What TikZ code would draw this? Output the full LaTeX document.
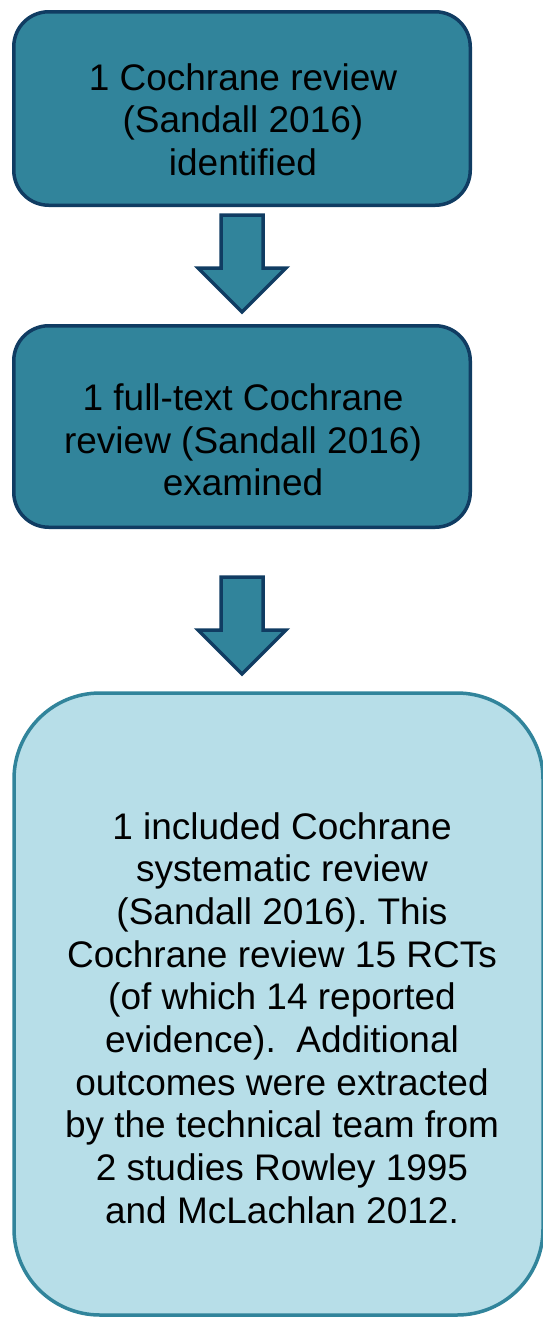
\documentclass[tikz,border=0pt]{standalone}
\usepackage{fontspec}
\setmainfont{Liberation Sans}
\usetikzlibrary{calc}
\definecolor{tealfill}{RGB}{49,132,155}
\definecolor{navyline}{RGB}{16,60,98}
\definecolor{paleblue}{RGB}{183,222,232}
\frenchspacing
\tikzset{
  stepbox/.style={draw=navyline, fill=tealfill, line width=3.5pt, rounded corners=35pt,
    minimum width=456.5pt},
  bigbox/.style={draw=tealfill, fill=paleblue, line width=3.5pt, rounded corners=86pt,
    minimum width=529pt, minimum height=622pt},
  boxtext/.style={align=center, font=\fontsize{37}{42.7}\selectfont},
  blockarrow/.style={draw=navyline, fill=tealfill, line width=3.5pt, line join=miter}
}
\newcommand{\downblock}[1]{%
  \draw[blockarrow] ([shift={(-21,-48)}]#1) -- ([shift={(21,-48)}]#1)
    -- ([shift={(21,5)}]#1) -- ([shift={(44,5)}]#1) -- ([shift={(0,49)}]#1)
    -- ([shift={(-44,5)}]#1) -- ([shift={(-21,5)}]#1) -- cycle;}

\begin{document}
\begin{tikzpicture}[x=1pt,y=-1pt]
  \useasboundingbox (0,0) rectangle (542,1317);

  % the three boxes
  \node[stepbox, minimum height=193.5pt] (ident) at (242,108.5) {};
  \node[stepbox, minimum height=201.5pt] (exam) at (242,426.5) {};
  \node[bigbox] (incl) at (278.5,1004) {};

  % their texts
  \node[boxtext] (identtxt) at (243,119.5) {1 Cochrane review\\(Sandall 2016)\\identified};
  \node[boxtext] (examtxt) at (243,440) {1 full-text Cochrane\\review (Sandall 2016)\\examined};
  \node[boxtext] (incltxt) at (282,1018) {1 included Cochrane\\systematic review\\(Sandall 2016). This\\Cochrane review 15 RCTs\\(of which 14 reported\\evidence).~~Additional\\outcomes were extracted\\by the technical team from\\2 studies Rowley 1995\\and McLachlan 2012.};

  % block arrows between them
  \coordinate (arrA) at (242,263);
  \coordinate (arrB) at (242,625);
  \downblock{arrA}
  \downblock{arrB}
\end{tikzpicture}
\end{document}
